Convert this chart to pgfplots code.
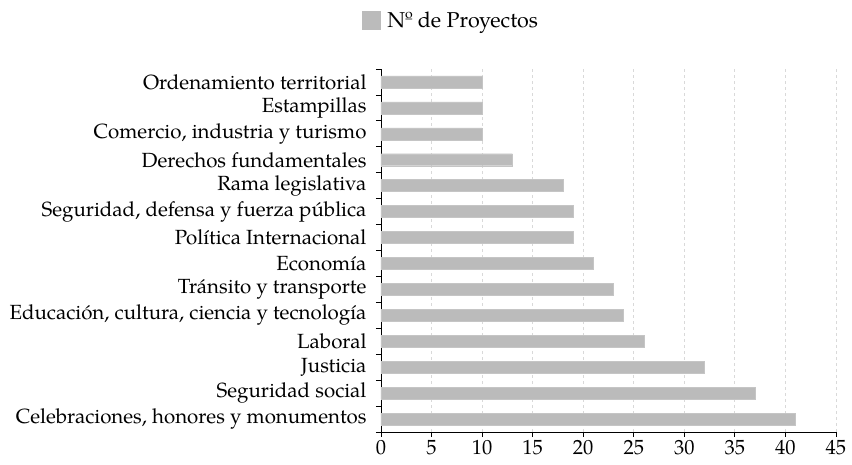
\documentclass[border=0pt]{standalone}
\usepackage{pgfplots}
\pgfplotsset{compat=1.18}
\usepackage{fontspec}
\setmainfont{texgyrepagella}[Extension=.otf, UprightFont=*-regular, BoldFont=*-bold, ItalicFont=*-italic]
\definecolor{barg}{HTML}{BBBBBB}
\definecolor{gridg}{HTML}{D9D9D9}
\begin{document}
\begin{tikzpicture}
\begin{axis}[
  scale only axis,
  width=455pt, height=363pt,
  xbar, bar width=12pt,
  xmin=0, xmax=45,
  ymin=-0.5, ymax=13.5,
  xtick={0,5,...,45},
  ytick={-0.5,0.5,...,13.5},
  yticklabels={,,,,,,,,,,,,,,,},
  extra y ticks={0,...,13},
  extra y tick labels={Celebraciones{,} honores y monumentos, Seguridad social, Justicia, Laboral, Educación{,} cultura{,} ciencia y tecnología, Tránsito y transporte, Economía\ , Política Internacional, Seguridad{,} defensa y fuerza pública, Rama legislativa, Derechos fundamentales, Comercio{,} industria y turismo, Estampillas, Ordenamiento territorial},
  extra y tick style={major tick length=0pt, yticklabel style={xshift=-11pt}},
  major tick length=5pt,
  tick align=outside,
  tick style={black, line width=0.8pt},
  axis x line*=bottom, axis y line*=left,
  axis line style={black, line width=0.8pt},
  xmajorgrids, major grid style={gridg, dashed, line width=0.8pt},
  /pgf/number format/assume math mode=true,
  tick label style={font=\fontsize{20.5}{24}\selectfont},
  legend style={draw=none, at={(axis description cs:0.154,1.135)}, anchor=center, font=\fontsize{21.5}{25}\selectfont},
  legend image code/.code={\fill[barg] (0pt,-9pt) rectangle (18pt,9pt); \path[draw=none, fill=none] (0pt,0pt) rectangle (23pt,0.1pt);},
  clip=false,
]
\addplot[fill=barg, draw=barg!85!white] coordinates {
(41,0) (37,1) (32,2) (26,3) (24,4) (23,5) (21,6) (19,7) (19,8) (18,9) (13,10) (10,11) (10,12) (10,13)};
\addlegendentry{Nº de Proyectos}
\path[use as bounding box] (axis description cs:0,0) ++(-381pt,-33pt) rectangle ++(852pt,465pt);
\end{axis}
\end{tikzpicture}
\end{document}
